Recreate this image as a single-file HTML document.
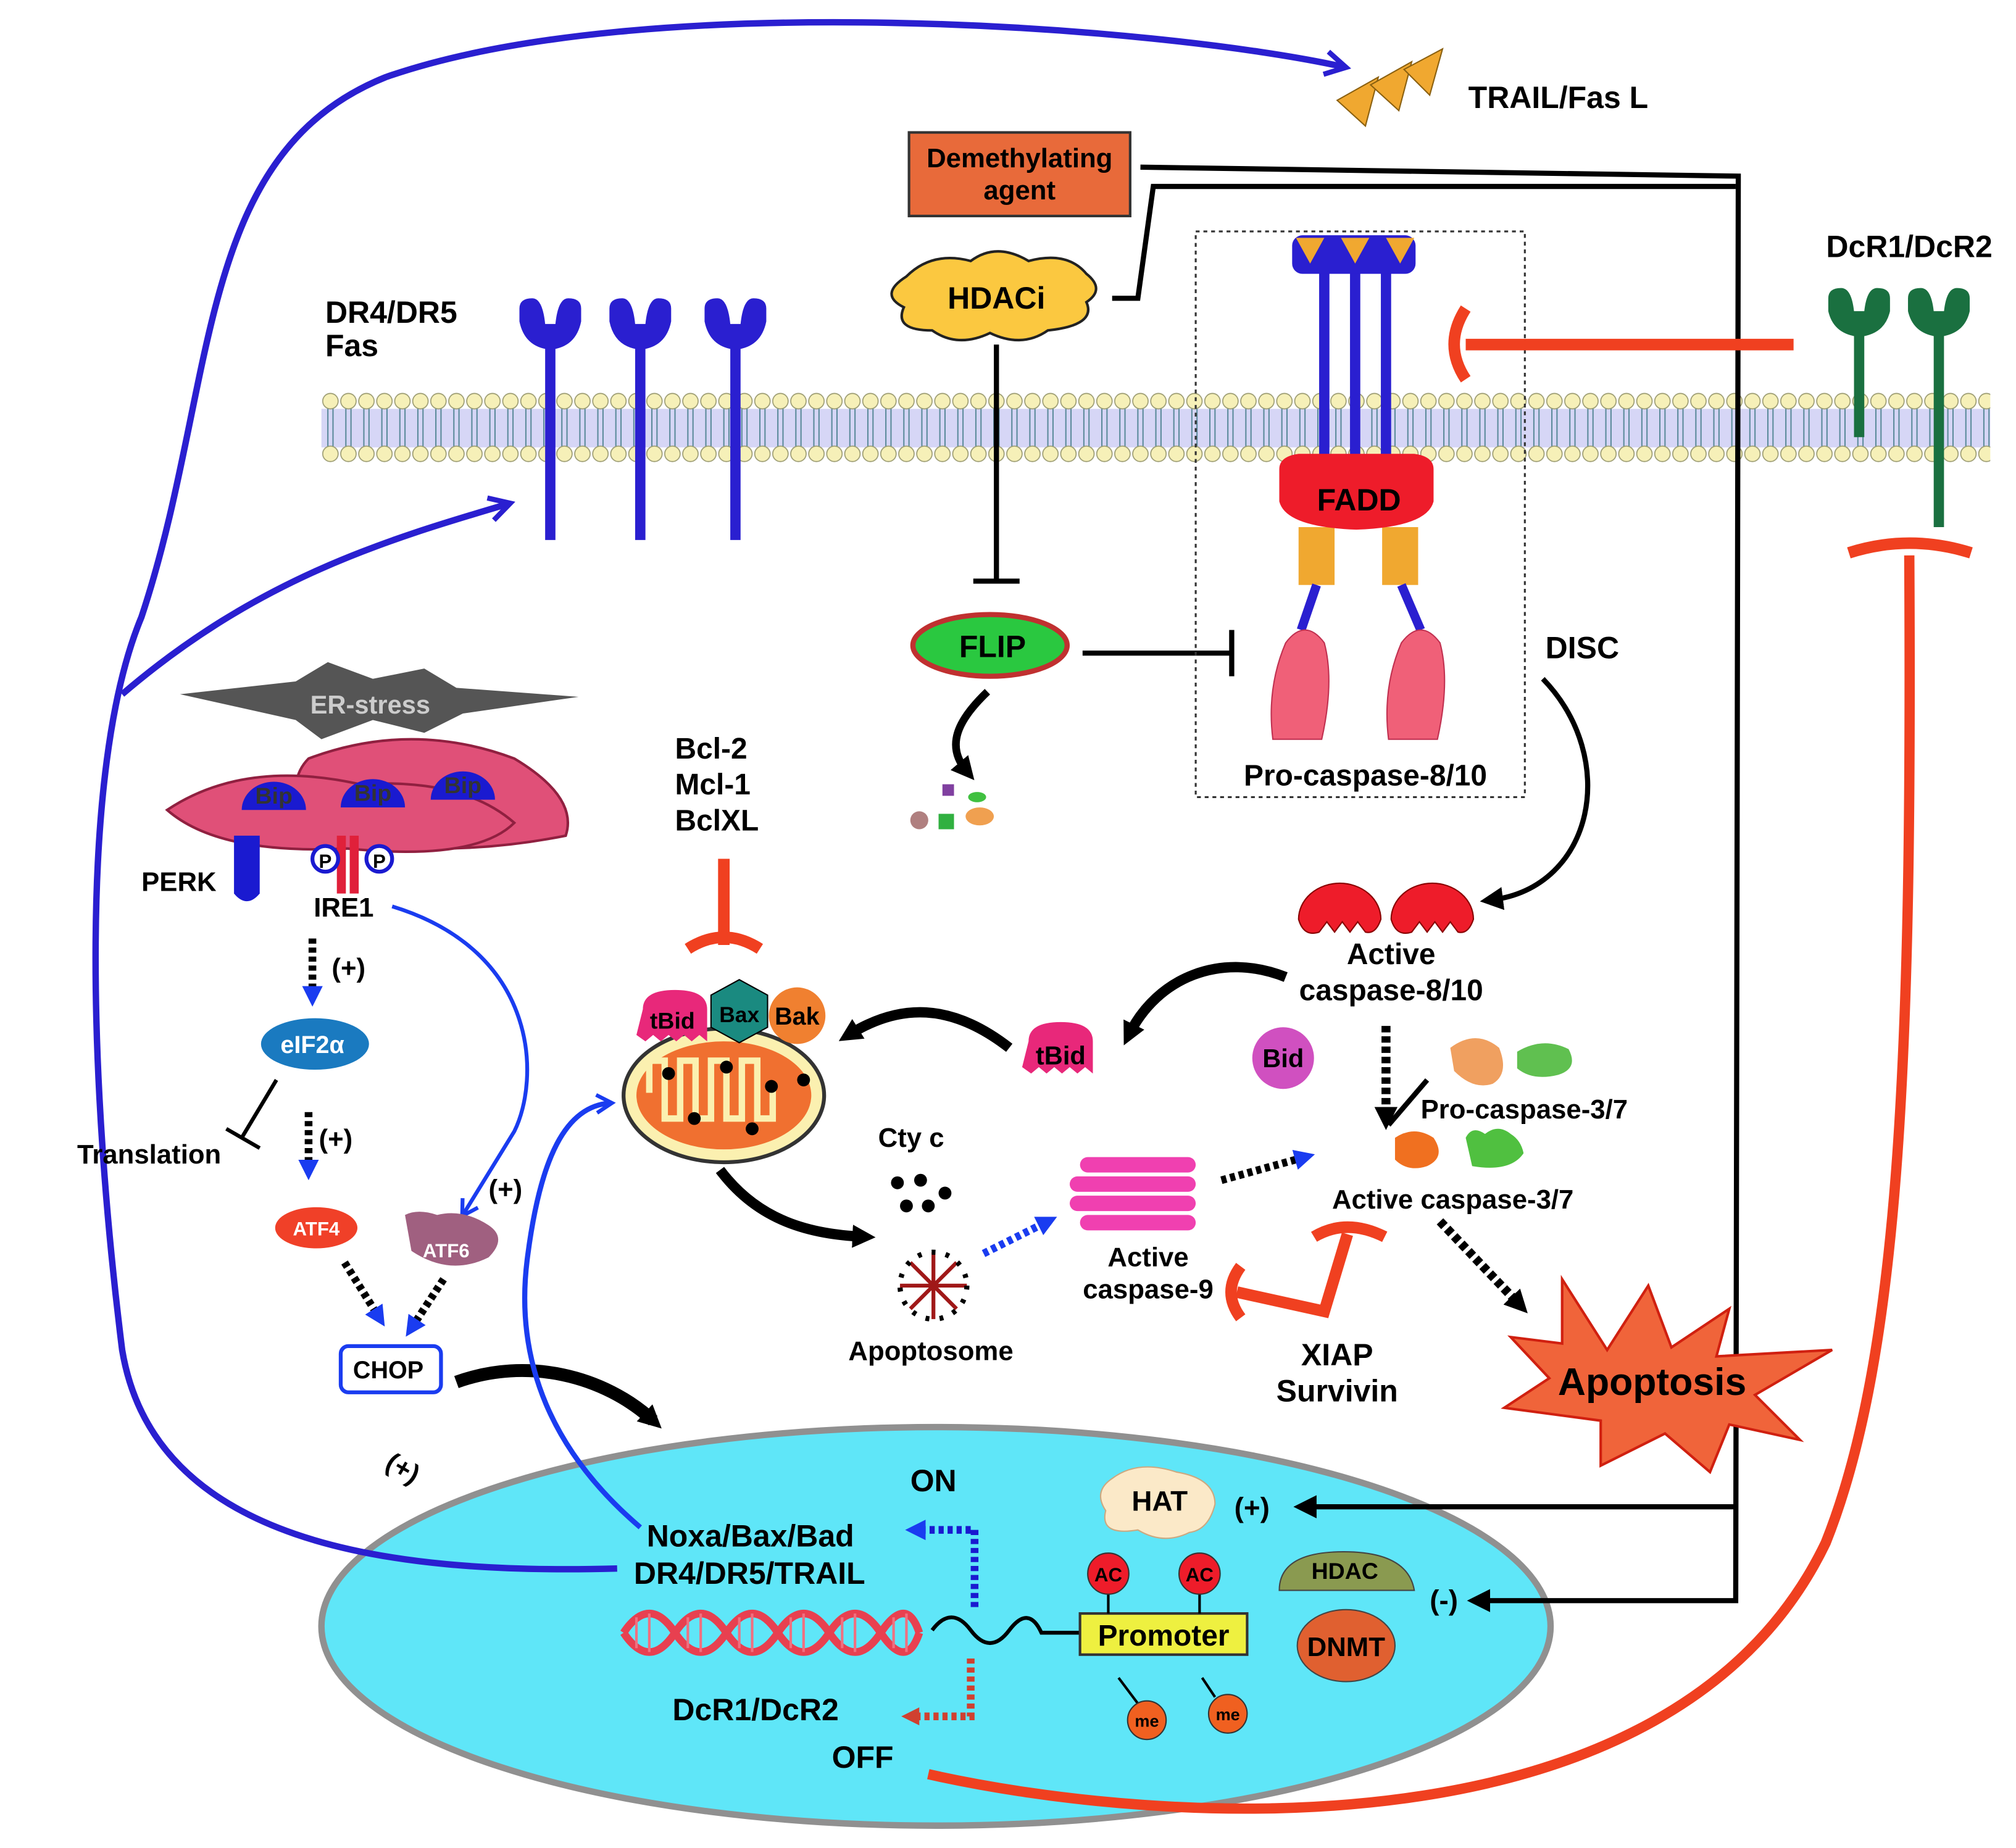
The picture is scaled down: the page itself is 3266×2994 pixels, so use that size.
<!DOCTYPE html>
<html><head><meta charset="utf-8"><style>
html,body{margin:0;padding:0;background:#fff;}
svg{display:block;}
text{font-family:"Liberation Sans",sans-serif;font-weight:bold;}
</style></head><body>
<svg width="3266" height="2994" viewBox="0 0 1568 1437.4" xmlns="http://www.w3.org/2000/svg">
<defs>
<pattern id="mem" x="250" y="300" width="14" height="65" patternUnits="userSpaceOnUse">
<circle cx="7" cy="12" r="6" fill="#f6f0b8" stroke="#9a9a70" stroke-width="0.8"/>
<circle cx="7" cy="53" r="6" fill="#f6f0b8" stroke="#9a9a70" stroke-width="0.8"/>
<path d="M5 18 V47 M9 18 V47" stroke="#5a8a9a" stroke-width="1" fill="none"/>
</pattern>
<marker id="ab" markerWidth="22" markerHeight="22" refX="16" refY="11" orient="auto" markerUnits="userSpaceOnUse"><path d="M2,2 L18,11 L2,20" fill="none" stroke="#2a1fd0" stroke-width="4"/></marker>
<marker id="ab2" markerWidth="18" markerHeight="18" refX="13" refY="9" orient="auto" markerUnits="userSpaceOnUse"><path d="M2,2 L14,9 L2,16" fill="none" stroke="#1a3cf0" stroke-width="3"/></marker>
<marker id="ak" markerWidth="18" markerHeight="18" refX="9" refY="9" orient="auto" markerUnits="userSpaceOnUse"><path d="M0,0 L18,9 L0,18 z" fill="#000"/></marker>
<marker id="abl" markerWidth="16" markerHeight="16" refX="8" refY="8" orient="auto" markerUnits="userSpaceOnUse"><path d="M0,0 L16,8 L0,16 z" fill="#1a3cf0"/></marker>
<marker id="ar" markerWidth="14" markerHeight="14" refX="7" refY="7" orient="auto" markerUnits="userSpaceOnUse"><path d="M0,0 L14,7 L0,14 z" fill="#d04030"/></marker>
</defs>
<rect width="1568" height="1438" fill="#fff"/>

<rect x="250" y="318" width="1298" height="30" fill="#d6d6f6"/>
<rect x="250" y="300" width="1298" height="65" fill="url(#mem)"/>

<ellipse cx="728" cy="1265" rx="478" ry="155" fill="#5fe6f8" stroke="#909090" stroke-width="5"/>

<path d="M480 1220 C300 1225 120 1200 95 1050 C70 850 60 600 110 480 C170 300 150 120 300 60 C500 -10 900 20 1045 52" fill="none" stroke="#2a1fd0" stroke-width="5" marker-end="url(#ab)"/>
<path d="M95 540 C200 450 300 420 395 392" fill="none" stroke="#2a1fd0" stroke-width="5" marker-end="url(#ab)"/>

<g fill="#f0a830" stroke="#8a6010" stroke-width="1">
<path d="M1040 78 L1072 60 L1062 98 z"/><path d="M1066 66 L1098 48 L1088 86 z"/><path d="M1092 54 L1122 38 L1112 74 z"/>
</g>
<text x="1142" y="84" font-size="24">TRAIL/Fas L</text>

<rect x="707" y="103" width="172" height="65" fill="#e86a3a" stroke="#333" stroke-width="2"/>
<text x="793" y="130" font-size="21" text-anchor="middle">Demethylating</text>
<text x="793" y="155" font-size="21" text-anchor="middle">agent</text>
<path d="M887 130 L1352 137 L1350 1245 L1150 1245" fill="none" stroke="#000" stroke-width="4" marker-end="url(#ak)"/>
<path d="M1350 1172 L1015 1172" fill="none" stroke="#000" stroke-width="4" marker-end="url(#ak)"/>
<path d="M865 232 L885 232 L897 145 L1350 145" fill="none" stroke="#000" stroke-width="4"/>

<path d="M705 215 q20-20 50-12 q20-15 45 0 q30-8 45 10 q15 12 0 22 q8 18-30 22 q-20 14-45 2 q-25 12-45-2 q-30 0-22-18 q-20-10 2-24z" fill="#fbc840" stroke="#222" stroke-width="2"/>
<text x="775" y="240" font-size="24" text-anchor="middle">HDACi</text>
<path d="M775 268 V452" stroke="#000" stroke-width="4"/>
<path d="M757 452 H793" stroke="#000" stroke-width="4"/>

<ellipse cx="770" cy="502" rx="60" ry="24" fill="#2ac840" stroke="#c03030" stroke-width="4"/>
<text x="772" y="511" font-size="24" text-anchor="middle">FLIP</text>
<path d="M842 508 H958" stroke="#000" stroke-width="4"/>
<path d="M958 490 V526" stroke="#000" stroke-width="4"/>
<path d="M768 538 C745 560 735 580 752 600" fill="none" stroke="#000" stroke-width="6" marker-end="url(#ak)"/>
<circle cx="715" cy="638" r="7" fill="#b08080"/><rect x="730" y="633" width="12" height="12" fill="#30b040"/><ellipse cx="762" cy="635" rx="11" ry="7" fill="#f0a050"/><rect x="733" y="610" width="9" height="9" fill="#8040a0"/><ellipse cx="760" cy="620" rx="7" ry="4" fill="#40c040"/>

<g stroke="#2a1fd0" stroke-width="8" fill="none">
<path d="M428 420 V265 M498 420 V265 M572 420 V265"/>
</g>
<g fill="#2a1fd0">
<path d="M404 240 q0-8 10-8 q8 0 10 20 h8 q2-20 10-20 q10 0 10 8 v10 q-4 20-24 22 q-20-2-24-22z"/>
<path d="M474 240 q0-8 10-8 q8 0 10 20 h8 q2-20 10-20 q10 0 10 8 v10 q-4 20-24 22 q-20-2-24-22z"/>
<path d="M548 240 q0-8 10-8 q8 0 10 20 h8 q2-20 10-20 q10 0 10 8 v10 q-4 20-24 22 q-20-2-24-22z"/>
</g>
<text x="253" y="251" font-size="24">DR4/DR5</text>
<text x="253" y="277" font-size="24">Fas</text>

<rect x="930" y="180" width="256" height="440" fill="none" stroke="#333" stroke-width="1.5" stroke-dasharray="3,3"/>
<g stroke="#2a1fd0" stroke-width="8"><path d="M1030 200 V370 M1054 200 V370 M1078 200 V370"/></g>
<rect x="1005" y="183" width="96" height="30" rx="8" fill="#2a1fd0"/>
<g fill="#f0a830"><path d="M1008 185 L1030 185 L1019 205z M1043 185 L1065 185 L1054 205z M1078 185 L1100 185 L1089 205z"/></g>
<rect x="1010" y="410" width="28" height="45" fill="#f0a830"/><rect x="1075" y="410" width="28" height="45" fill="#f0a830"/>
<path d="M995 365 q0-10 15-12 h90 q15 2 15 12 v25 q-5 20-60 22 q-55-2-60-22z" fill="#ee1c2a"/>
<text x="1057" y="397" font-size="24" text-anchor="middle">FADD</text>
<path d="M1024 455 L1012 490 M1090 455 L1105 490" stroke="#2a1fd0" stroke-width="7"/>
<path d="M1000 500 q15-20 30 0 q8 30 -2 75 h-38 q-5-40 10-75z" fill="#f06078" stroke="#c03050"/>
<path d="M1090 500 q15-20 30 0 q8 30 -2 75 h-38 q-5-40 10-75z" fill="#f06078" stroke="#c03050"/>
<text x="1062" y="611" font-size="23" text-anchor="middle">Pro-caspase-8/10</text>

<text x="1485" y="200" font-size="24" text-anchor="middle">DcR1/DcR2</text>
<g stroke="#1a7040" stroke-width="8"><path d="M1446 340 V255 M1508 410 V255"/></g>
<g fill="#1a7040">
<path d="M1422 232 q0-8 10-8 q8 0 10 18 h8 q2-18 10-18 q10 0 10 8 v10 q-4 18-24 20 q-20-2-24-20z"/>
<path d="M1484 232 q0-8 10-8 q8 0 10 18 h8 q2-18 10-18 q10 0 10 8 v10 q-4 18-24 20 q-20-2-24-20z"/>
</g>
<path d="M1395 268 H1140" stroke="#f04020" stroke-width="9"/>
<path d="M1140 240 q-18 28 0 55" fill="none" stroke="#f04020" stroke-width="9"/>

<path d="M722 1380 C900 1420 1300 1450 1420 1200 C1480 1050 1487 800 1485 432" fill="none" stroke="#f04020" stroke-width="8"/>
<path d="M1438 430 q47-15 95 0" fill="none" stroke="#f04020" stroke-width="9"/>

<text x="1202" y="512" font-size="24">DISC</text>
<path d="M1200 528 C1260 590 1240 690 1160 700" fill="none" stroke="#000" stroke-width="4" marker-end="url(#ak)"/>

<path d="M1010 715 a32 28 0 0 1 64 0 q-4 12-12 10 l-6-8 -6 8 -6-8 -6 8 -6-8 -6 8 q-12 4-16-10z" fill="#ee1c2a" stroke="#800" stroke-width="1"/>
<path d="M1082 715 a32 28 0 0 1 64 0 q-4 12-12 10 l-6-8 -6 8 -6-8 -6 8 -6-8 -6 8 q-12 4-16-10z" fill="#ee1c2a" stroke="#800" stroke-width="1"/>
<text x="1082" y="750" font-size="23" text-anchor="middle">Active</text>
<text x="1082" y="778" font-size="23" text-anchor="middle">caspase-8/10</text>
<path d="M1000 760 C950 740 900 760 878 805" fill="none" stroke="#000" stroke-width="8" marker-end="url(#ak)"/>
<path d="M785 815 C740 780 700 780 660 805" fill="none" stroke="#000" stroke-width="8" marker-end="url(#ak)"/>
<path d="M1078 798 V870" stroke="#000" stroke-width="7" stroke-dasharray="5,3" marker-end="url(#ak)"/>
<path d="M1110 840 L1080 875" stroke="#000" stroke-width="4"/>

<path d="M800 810 q0-15 25-15 q25 0 25 15 v25 l-6-5 -6 5 -6-5 -6 5 -6-5 -6 5 -6-5 -6 5 -7-5z" fill="#e8287a"/>
<text x="825" y="828" font-size="20" text-anchor="middle">tBid</text>
<circle cx="998" cy="823" r="24" fill="#d050c0"/>
<text x="998" y="830" font-size="20" text-anchor="middle">Bid</text>

<path d="M1128 815 q20-15 38 0 q8 20-5 28 q-15 5-30-10z" fill="#f0a060"/>
<path d="M1180 818 q20-12 40-2 q8 15-8 20 q-20 5-32-5z" fill="#60c050"/>
<text x="1105" y="870" font-size="21">Pro-caspase-3/7</text>
<path d="M1085 885 q15-10 30 0 q10 15-5 22 q-15 5-25-5z" fill="#f07020"/>
<path d="M1140 885 q5-10 15-3 q10-8 20 0 q8 5 10 15 q-10 15-40 10z" fill="#50c040"/>
<text x="1130" y="940" font-size="21" text-anchor="middle">Active caspase-3/7</text>
<path d="M1120 950 L1182 1015" stroke="#000" stroke-width="7" stroke-dasharray="5,3" marker-end="url(#ak)"/>

<path d="M1215 995 L1250 1050 L1282 1000 L1300 1048 L1345 1018 L1335 1055 L1425 1050 L1365 1085 L1400 1120 L1345 1108 L1330 1145 L1295 1115 L1245 1140 L1245 1105 L1170 1095 L1205 1072 L1175 1040 L1215 1045z" fill="#f0643a" stroke="#d02010" stroke-width="2"/>
<text x="1285" y="1085" font-size="30" text-anchor="middle">Apoptosis</text>

<text x="525" y="590" font-size="23">Bcl-2</text>
<text x="525" y="618" font-size="23">Mcl-1</text>
<text x="525" y="646" font-size="23">BclXL</text>
<path d="M563 668 V735" stroke="#f04020" stroke-width="9"/>
<path d="M535 738 q28-18 56 0" fill="none" stroke="#f04020" stroke-width="9"/>

<ellipse cx="563" cy="852" rx="78" ry="52" fill="#fbf0b0" stroke="#333" stroke-width="3"/>
<ellipse cx="563" cy="852" rx="68" ry="42" fill="#f07030"/>
<path d="M505 850 v-25 h12 v45 h12 v-45 h12 v45 h12 v-45 h12 v45 h12 v-45 h12 v45 h12 v-25" fill="none" stroke="#fbf0b0" stroke-width="5"/>
<g fill="#000"><circle cx="520" cy="835" r="5"/><circle cx="565" cy="830" r="5"/><circle cx="600" cy="845" r="5"/><circle cx="540" cy="870" r="5"/><circle cx="585" cy="878" r="5"/><circle cx="625" cy="840" r="5"/></g>
<path d="M500 785 q0-15 25-15 q25 0 25 15 v25 l-6-5 -6 5 -6-5 -6 5 -6-5 -6 5 -6-5 -6 5 -7-5z" fill="#e8287a"/>
<text x="523" y="800" font-size="18" text-anchor="middle">tBid</text>
<path d="M575 762 l22 12 v25 l-22 12 -22-12 v-25z" fill="#1a8a80" stroke="#000"/>
<text x="575" y="795" font-size="17" text-anchor="middle">Bax</text>
<circle cx="620" cy="790" r="22" fill="#f08030"/>
<text x="620" y="797" font-size="19" text-anchor="middle">Bak</text>
<text x="683" y="892" font-size="21">Cty c</text>
<g fill="#000"><circle cx="698" cy="920" r="5"/><circle cx="716" cy="918" r="5"/><circle cx="705" cy="938" r="5"/><circle cx="722" cy="938" r="5"/><circle cx="735" cy="928" r="5"/></g>
<path d="M560 910 C590 950 630 960 672 962" fill="none" stroke="#000" stroke-width="8" marker-end="url(#ak)"/>
<g stroke="#a01818" stroke-width="3"><path d="M700 1000 L752 1000 M726 974 L726 1026 M708 982 L744 1018 M744 982 L708 1018"/></g>
<circle cx="726" cy="1000" r="26" fill="none" stroke="#000" stroke-width="4" stroke-dasharray="3,8"/>
<text x="724" y="1058" font-size="21" text-anchor="middle">Apoptosome</text>
<path d="M765 975 L815 950" stroke="#1a3cf0" stroke-width="6" stroke-dasharray="4,3" marker-end="url(#abl)"/>
<g fill="#f040b0"><rect x="840" y="900" width="90" height="12" rx="6"/><rect x="832" y="915" width="98" height="12" rx="6"/><rect x="832" y="930" width="98" height="12" rx="6"/><rect x="840" y="945" width="90" height="12" rx="6"/></g>
<text x="893" y="985" font-size="21" text-anchor="middle">Active</text>
<text x="893" y="1010" font-size="21" text-anchor="middle">caspase-9</text>
<path d="M950 918 L1015 900" stroke="#000" stroke-width="6" stroke-dasharray="4,3" marker-end="url(#abl)"/>
<path d="M1048 960 L1030 1020 L962 1005" fill="none" stroke="#f04020" stroke-width="9"/>
<path d="M1022 962 q25-15 55 0" fill="none" stroke="#f04020" stroke-width="9"/>
<path d="M965 985 q-15 20 0 40" fill="none" stroke="#f04020" stroke-width="9"/>
<text x="1040" y="1062" font-size="24" text-anchor="middle">XIAP</text>
<text x="1040" y="1090" font-size="24" text-anchor="middle">Survivin</text>

<path d="M140 540 L230 530 L255 515 L290 528 L330 520 L355 535 L450 542 L360 555 L330 570 L290 560 L250 575 L230 560z" fill="#555"/>
<text x="288" y="555" font-size="20" text-anchor="middle" fill="#ccc">ER-stress</text>
<g fill="#e05078" stroke="#902040" stroke-width="2">
<path d="M240 590 q80-30 160 0 q50 30 40 60 q-100 20-200 0 q-20-40 0-60z"/>
<path d="M130 630 q60-40 150-20 q80 -5 120 30 q-30 30-130 20 q-100 5-140-30z"/>
</g>
<g fill="#1a1ad0">
<path d="M188 630 a25 22 0 0 1 50 0z"/><path d="M265 628 a25 22 0 0 1 50 0z"/><path d="M335 622 a25 22 0 0 1 50 0z"/>
</g>
<text x="213" y="625" font-size="18" fill="#333" text-anchor="middle">Bip</text>
<text x="290" y="623" font-size="18" fill="#333" text-anchor="middle">Bip</text>
<text x="360" y="617" font-size="18" fill="#333" text-anchor="middle">Bip</text>
<path d="M182 650 v45 q10 12 20 0 v-45z" fill="#1a1ad0"/>
<rect x="262" y="650" width="7" height="45" fill="#e0203a"/><rect x="272" y="650" width="7" height="45" fill="#e0203a"/>
<circle cx="253" cy="668" r="10" fill="#fff" stroke="#1a1ad0" stroke-width="3"/><text x="253" y="675" font-size="15" text-anchor="middle">P</text>
<circle cx="295" cy="668" r="10" fill="#fff" stroke="#1a1ad0" stroke-width="3"/><text x="295" y="675" font-size="15" text-anchor="middle">P</text>
<text x="110" y="693" font-size="21">PERK</text>
<text x="244" y="713" font-size="21">IRE1</text>
<path d="M305 705 C420 740 420 840 400 880 L360 945" fill="none" stroke="#1a3cf0" stroke-width="3" marker-end="url(#ab2)"/>
<text x="380" y="932" font-size="21">(+)</text>
<path d="M243 730 V775" stroke="#000" stroke-width="6" stroke-dasharray="4,3" marker-end="url(#abl)"/>
<text x="258" y="760" font-size="21">(+)</text>
<ellipse cx="245" cy="812" rx="42" ry="20" fill="#1a7ac0"/>
<text x="243" y="819" font-size="19" fill="#fff" text-anchor="middle">eIF2α</text>
<path d="M215 840 L188 885" stroke="#000" stroke-width="3"/><path d="M176 878 L202 893" stroke="#000" stroke-width="3"/>
<text x="60" y="905" font-size="21">Translation</text>
<path d="M240 865 V910" stroke="#000" stroke-width="6" stroke-dasharray="4,3" marker-end="url(#abl)"/>
<text x="248" y="893" font-size="21">(+)</text>
<ellipse cx="246" cy="955" rx="32" ry="16" fill="#f04028"/>
<text x="246" y="961" font-size="15" fill="#fff" text-anchor="middle">ATF4</text>
<path d="M315 945 q10-5 25 0 q20-5 40 8 q15 10 0 25 q-30 15-60-5z" fill="#a06080"/>
<text x="347" y="978" font-size="15" fill="#fff" text-anchor="middle">ATF6</text>
<path d="M268 982 L295 1025" stroke="#000" stroke-width="6" stroke-dasharray="4,3" marker-end="url(#abl)"/>
<path d="M345 995 L320 1033" stroke="#000" stroke-width="6" stroke-dasharray="4,3" marker-end="url(#abl)"/>
<rect x="265" y="1047" width="78" height="36" rx="6" fill="#fff" stroke="#1a3cf0" stroke-width="3"/>
<text x="302" y="1072" font-size="19" text-anchor="middle">CHOP</text>
<path d="M355 1075 C410 1055 470 1070 508 1105" fill="none" stroke="#000" stroke-width="10" marker-end="url(#ak)"/>
<text x="300" y="1150" font-size="21" transform="rotate(30 315 1143)">(+)</text>

<path d="M498 1188 C430 1130 400 1060 410 980 C420 900 440 860 475 858" fill="none" stroke="#1a3cf0" stroke-width="4" marker-end="url(#ab2)"/>

<text x="708" y="1160" font-size="24">ON</text>
<text x="503" y="1203" font-size="24">Noxa/Bax/Bad</text>
<text x="493" y="1232" font-size="24">DR4/DR5/TRAIL</text>
<path d="M758 1250 V1190 H712" fill="none" stroke="#1a1ad0" stroke-width="6" stroke-dasharray="4,3" marker-end="url(#abl)"/>
<path d="M755 1290 V1335 H708" fill="none" stroke="#d04030" stroke-width="6" stroke-dasharray="4,3" marker-end="url(#ar)"/>
<text x="523" y="1338" font-size="24">DcR1/DcR2</text>
<text x="647" y="1375" font-size="24">OFF</text>
<g fill="none" stroke="#e84050" stroke-width="6">
<path d="M485 1270 q20-30 40 0 t40 0 t40 0 t40 0 t40 0 t30 0"/>
<path d="M485 1270 q20 30 40 0 t40 0 t40 0 t40 0 t40 0 t30 0"/>
</g>
<g stroke="#f07080" stroke-width="2"><path d="M495 1258 v24 M505 1255 v30 M535 1258 v24 M545 1255 v30 M575 1258 v24 M585 1255 v30 M615 1258 v24 M625 1255 v30 M655 1258 v24 M665 1255 v30 M695 1258 v24 M705 1255 v30"/></g>
<path d="M725 1268 q15-20 30 0 t30 0 t25 2 H840" fill="none" stroke="#000" stroke-width="3"/>
<rect x="840" y="1255" width="130" height="32" fill="#eef040" stroke="#333" stroke-width="2"/>
<text x="905" y="1280" font-size="23" text-anchor="middle">Promoter</text>
<path d="M862 1240 V1255 M933 1240 V1255" stroke="#000" stroke-width="2"/>
<circle cx="862" cy="1224" r="16" fill="#ee1c2a" stroke="#333"/><text x="862" y="1230" font-size="15" text-anchor="middle">AC</text>
<circle cx="933" cy="1224" r="16" fill="#ee1c2a" stroke="#333"/><text x="933" y="1230" font-size="15" text-anchor="middle">AC</text>
<path d="M870 1305 L885 1325 M935 1305 L945 1320" stroke="#000" stroke-width="2"/>
<circle cx="892" cy="1338" r="15" fill="#f06020" stroke="#333"/><text x="892" y="1343" font-size="13" text-anchor="middle">me</text>
<circle cx="955" cy="1333" r="15" fill="#f06020" stroke="#333"/><text x="955" y="1338" font-size="13" text-anchor="middle">me</text>
<path d="M865 1150 q20-15 50-5 q30 5 30 25 q-5 20-20 22 q-20 10-40-2 q-30 5-25-15 q-10-15 5-25z" fill="#fbe9c8" stroke="#cca880"/>
<text x="902" y="1175" font-size="22" text-anchor="middle">HAT</text>
<text x="960" y="1180" font-size="22">(+)</text>
<path d="M995 1237 q0-30 50-30 q50 0 55 30z" fill="#8a9a50" stroke="#444"/>
<text x="1046" y="1228" font-size="18" text-anchor="middle">HDAC</text>
<ellipse cx="1047" cy="1280" rx="38" ry="28" fill="#e06030" stroke="#444"/>
<text x="1047" y="1288" font-size="21" text-anchor="middle">DNMT</text>
<text x="1112" y="1252" font-size="22">(-)</text>
</svg>
</body></html>
